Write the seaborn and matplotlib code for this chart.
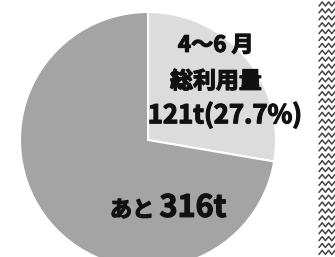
import numpy as np
import seaborn as sns
import matplotlib.pyplot as plt
import matplotlib.patheffects as pe
from matplotlib.lines import Line2D

# data
labels = ["4〜6 月総利用量", "あと"]
amounts = [121, 316]
share_pct = 27.7

sns.set_theme(style="white")
plt.rcParams['font.family'] = ['Noto Sans CJK JP', 'DejaVu Sans']

fig = plt.figure(figsize=(3.35, 2.57), dpi=100)
W, H = 335, 257

# pie placed so it is clipped at the bottom like the original
cx, cy, r = 148, 140, 128
ax = fig.add_axes([(cx - r) / W, (H - cy - r) / H, 2 * r / W, 2 * r / H])
colors = ["#dcdcdc", "#a4a4a4"]
ax.pie(amounts, colors=colors, startangle=90, counterclock=False, radius=1,
       wedgeprops=dict(edgecolor="white", linewidth=1.5))
ax.set_xlim(-1, 1)
ax.set_ylim(-1, 1)
ax.set_aspect("auto")
ax.axis("off")

# thicken strokes a little so the labels read as heavy bold
bold = [pe.withStroke(linewidth=0.9, foreground="#111111")]
kw = dict(fontweight="bold", color="#111111", path_effects=bold)

ax.text(0.53, 0.74, "4〜6 月", ha="center", va="center", fontsize=16, **kw)
ax.text(0.53, 0.455, "総利用量", ha="center", va="center", fontsize=16.5, **kw)
ax.text(0.6, 0.19, f"{amounts[0]}t({share_pct}%)", ha="center", va="center",
        fontsize=18.5, **kw)
ax.text(0.05, -0.6, "あと", ha="right", va="baseline", fontsize=16, **kw)
ax.text(0.09, -0.6, f"{amounts[1]}t", ha="left", va="baseline", fontsize=22, **kw)

# zigzag border on the right edge
x0, x1 = 319, 335
zx = np.linspace(x0, x1, 6)
for row in np.arange(4, H, 6.9):
    zy = np.where(np.arange(6) % 2 == 0, row + 2, row - 2)
    fig.add_artist(Line2D(zx / W, (H - zy) / H, color="#444444", lw=1.1,
                          transform=fig.transFigure))

fig.savefig("out.png", dpi=100, facecolor="white")
